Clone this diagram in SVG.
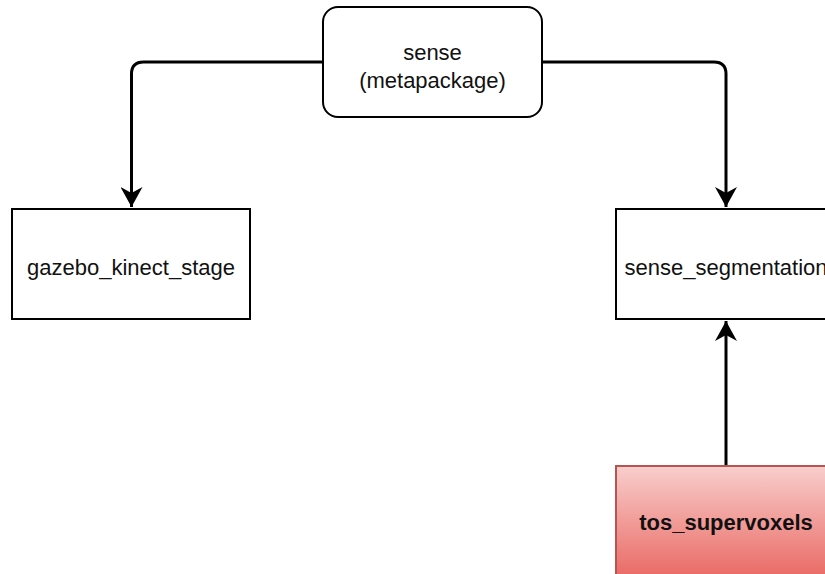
<svg xmlns="http://www.w3.org/2000/svg" width="825" height="574" viewBox="0 0 825 574">
  <style>
    .box { fill: #ffffff; stroke: #000000; stroke-width: 2; }
    .label { font-family: "Liberation Sans", Arial, sans-serif; font-size: 22px; fill: #111111; text-anchor: middle; }
    .bold { font-weight: bold; }
    .edge { fill: none; stroke: #000000; stroke-width: 3; }
  </style>
  <defs>
    <marker id="arrow" markerUnits="userSpaceOnUse" markerWidth="22" markerHeight="22" viewBox="0 0 22 22" refX="20" refY="11" orient="auto">
      <path d="M0,0 L20,11 L0,22 L6,11 Z" fill="#000000"/>
    </marker>
    <linearGradient id="redFill" x1="0" y1="0" x2="0" y2="1">
      <stop offset="0" stop-color="#f8cecc"/>
      <stop offset="1" stop-color="#ea6b66"/>
    </linearGradient>
  </defs>

  <g id="connectors">
    <path class="edge" d="M323,62 H143.5 Q131.5,62 131.5,74 V207" marker-end="url(#arrow)"/>
    <path class="edge" d="M542,62 H714 Q726,62 726,74 V207" marker-end="url(#arrow)"/>
    <path class="edge" d="M726,466 V321" marker-end="url(#arrow)"/>
  </g>

  <g id="sense">
    <rect class="box" x="323" y="7" width="219" height="110" rx="15" ry="15"/>
    <text class="label" x="432.5" y="60">sense</text>
    <text class="label" x="432.5" y="88">(metapackage)</text>
  </g>

  <g id="gazebo_kinect_stage">
    <rect class="box" x="12" y="209" width="238" height="110"/>
    <text class="label" x="131" y="275">gazebo_kinect_stage</text>
  </g>

  <g id="sense_segmentation">
    <rect class="box" x="616" y="209" width="220" height="110"/>
    <text class="label" x="726" y="275">sense_segmentation</text>
  </g>

  <g id="tos_supervoxels">
    <rect x="616" y="466" width="220" height="110" fill="url(#redFill)" stroke="#b85450" stroke-width="2"/>
    <text class="label bold" x="726" y="530">tos_supervoxels</text>
  </g>
</svg>
